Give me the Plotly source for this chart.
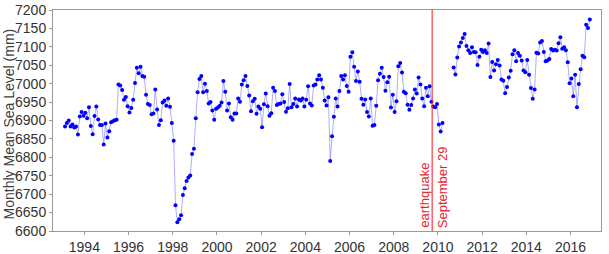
import numpy as np
import plotly.graph_objects as go

# Monthly mean sea level (mm), monthly from Feb 1993; None = missing months after the earthquake
sea_level = [
    6884, 6893, 6900, 6884, 6889, 6881, 6884, 6862, 6911, 6923, 6913, 6921, 6906, 6936, 6885, 6863,
    6912, 6938, 6903, 6888, 6888, 6835, 6892, 6854, 6871, 6895, 6898, 6901, 6902, 6998, 6995, 6983,
    6956, 6964, 6939, 6922, 6934, 6956, 7002, 7043, 7028, 7046, 7021, 7019, 6970, 6945, 6942, 6917,
    6919, 6984, 6930, 6888, 6901, 6949, 6954, 6940, 6960, 6937, 6893, 6845, 6670, 6624, 6632, 6643,
    6698, 6716,
    6736, 6745, 6751, 6809, 6823, 6906, 6977, 7013, 7021, 6977, 7000, 6980, 6946, 6950, 6927, 6902,
    6932, 6935, 6940, 6949, 7007, 6978, 6927, 6946, 6909, 6902, 6919, 6919, 6960, 6951, 6998, 7009,
    7021, 6994, 6968, 6925, 6952, 6959, 6918, 6938, 6932, 6882, 6944, 6973, 6939, 6913, 6920, 6989,
    6980, 6942, 6945, 6946, 6971, 6950, 6924, 6933, 6999, 6936, 6945, 6960, 6938, 6957, 6954, 6960,
    6938,
    6956, 6993, 6946, 6941, 6995, 6998, 7011, 7023, 7011, 6989, 6954, 6941, 6963, 6790, 6857, 6910,
    6960, 6938, 6980, 7021, 7011, 7023, 6994, 6978, 7073, 7085, 7046, 7007, 7033, 7005, 6959, 6943,
    6957, 6923, 6911, 6960, 6886, 6888, 6940, 7009, 7027, 7043, 7018, 6981, 7004, 7019, 6935, 6970,
    6923, 6952, 7047, 7056, 7030, 6978, 6974, 6943, 6929, 6942, 6960, 6984, 6973, 7017, 6998, 6960,
    6939,
    6989, 6966, 6993, 6951, 6938, 6936, 6945, 6889, 6870, 6893,
    None, None, None, None, None,
    7044, 7025, 7071, 7101, 7112, 7124, 7135, 7102, 7091, 7083, 7099, 7086, 7085, 7051, 7073, 7092,
    7086, 7091, 7083, 7109, 7018, 7059, 7036, 7053, 7064, 7049, 7011, 7008, 6974, 6991, 7017, 7035,
    7080, 7091, 7061, 7083, 7076, 7063, 7036,
    7031, 7064, 7024, 6988, 6959, 6984, 7084, 7082, 7112, 7116, 7086, 7061, 7063, 7067, 7094, 7090,
    7092, 7090, 7110, 7126, 7095, 7099, 7091, 7058, 7001, 7014, 6966, 7024, 6936, 6999, 7039, 7076,
    7072, 7160, 7151, 7174,
]
start_year = 1993
start_month = 2  # February
month_index = np.arange(len(sea_level))
decimal_year = start_year + (start_month - 0.5 + month_index) / 12.0

earthquake_year = 2009.74  # 29 September 2009
x_ticks = [1994, 1996, 1998, 2000, 2002, 2004, 2006, 2008, 2010, 2012, 2014, 2016]
y_ticks = list(range(6600, 7201, 50))

FONT = "Liberation Sans, Arial, sans-serif"

fig = go.Figure()
fig.add_trace(go.Scatter(
    x=decimal_year, y=sea_level, mode="lines+markers",
    line=dict(color="rgba(120,120,255,0.6)", width=1),
    marker=dict(color="#0000ff", size=4),
    connectgaps=False, showlegend=False, hoverinfo="x+y",
))

fig.add_shape(type="line", xref="x", yref="paper", x0=earthquake_year, x1=earthquake_year,
              y0=0, y1=1, line=dict(color="rgba(255,40,40,0.85)", width=1.3))

fig.add_annotation(x=earthquake_year, y=0, xref="x", yref="paper", text="earthquake",
                   textangle=-90, showarrow=False, xanchor="center", yanchor="bottom",
                   xshift=-8, yshift=1, font=dict(family=FONT, size=13, color="#e8262a"))
fig.add_annotation(x=earthquake_year, y=0, xref="x", yref="paper", text="September 29",
                   textangle=-90, showarrow=False, xanchor="center", yanchor="bottom",
                   xshift=10, yshift=1, font=dict(family=FONT, size=13, color="#e8262a"))

fig.add_annotation(x=-0.08, y=0.483, xref="paper", yref="paper",
                   text="Monthly Mean Sea Level (mm)", textangle=-90, showarrow=False,
                   xanchor="center", yanchor="middle",
                   font=dict(family=FONT, size=14, color="#404040"))

axis_common = dict(showline=True, mirror=True, linecolor="#999999", linewidth=1,
                   ticks="outside", ticklen=3, tickcolor="#999999", showgrid=False,
                   zeroline=False, automargin=False,
                   tickfont=dict(family=FONT, size=14, color="#333333"))

fig.update_layout(
    template="none",
    width=609, height=254,
    margin=dict(l=53, r=8, t=10, b=23),
    paper_bgcolor="white", plot_bgcolor="white",
    xaxis=dict(range=[1992.58, 2017.38], tickvals=x_ticks, ticktext=[str(t) for t in x_ticks],
               **axis_common),
    yaxis=dict(range=[6600, 7200], tickvals=y_ticks, **axis_common),
)

fig.write_html(
    "out.html",
    config={"displayModeBar": False},
    post_script="document.body.style.margin='0';document.body.style.overflow='hidden';",
)
